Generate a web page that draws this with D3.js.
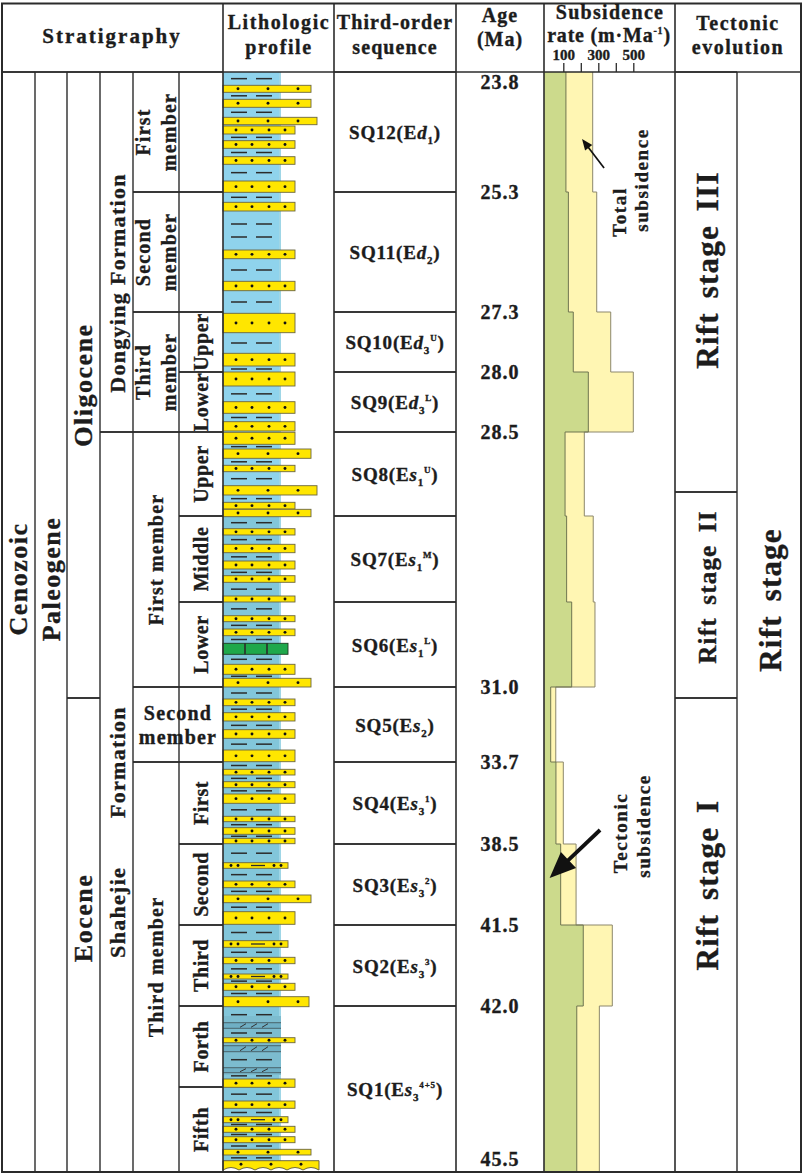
<!DOCTYPE html>
<html><head><meta charset="utf-8">
<script src="https://cdn.jsdelivr.net/npm/d3@7"></script>
<style>
body{margin:0;background:#fff}
svg{display:block}
text{font-family:"Liberation Serif","Times New Roman",serif;font-weight:bold;fill:#1c1c1c;stroke:#1c1c1c;stroke-width:0.35px}
</style>
</head><body>
<svg id="chart" width="803" height="1176"></svg>
<script>
// ================= DATA =================
const sequences   = ["SQ12","SQ11","SQ10","SQ9","SQ8","SQ7","SQ6","SQ5","SQ4","SQ3","SQ2","SQ1"];
const seqUnit     = ["d","d","d","d","s","s","s","s","s","s","s","s"];
const seqSub      = ["1","2","3","3","1","1","1","2","3","3","3","3"];
const seqSup      = ["","","U","L","U","M","L","","1","2","3","4+5"];
const seqTop      = [0,120,240,300,360,444,530,615,690,772,853,934];
const seqBase     = [120,240,300,360,444,530,615,690,772,853,934,1100];
const tectonicRate= [115,129,157,243,110,119,148,28,58,85,214,177];
const totalRate   = [268,291,371,500,220,271,281,57,100,173,380,306];
const ageLabels   = ["23.8","25.3","27.3","28.0","28.5","31.0","33.7","38.5","41.5","42.0","45.5"];
const ageDepth    = [0,120,240,300,360,615,690,772,853,934,1100];
const rateTicks   = [100,200,300,400,500];
const rateTickLabels = ["100","","300","","500"];

const eras       = [["Cenozoic",0,1100]];
const periods    = [["Paleogene",0,1100]];
const epochs     = [["Oligocene",0,626],["Eocene",626,1100]];
const formations = [["Dongying Formation",0,360],["Shahejie Formation",360,1100]];
const members    = [["First|member",0,120],["Second|member",120,240],["Third|member",240,360],
                    ["First member",360,615],["Second|member",615,690],["Third member",690,1100]];
const subMembers = [["",0,120],["",120,240],["Upper",240,300],["Lower",300,360],
                    ["Upper",360,444],["Middle",444,530],["Lower",530,615],["",615,690],
                    ["First",690,772],["Second",772,853],["Third",853,934],["Forth",934,1015],["Fifth",1015,1100]];
const stages     = [["Rift stage III",0,420],["Rift stage II",420,626],["Rift stage I",626,1100]];
const stageAll   = [["Rift stage",0,1100]];

// lithologic beds (relative thickness units): top, base, lithology
// S silty, F fine sand, M medium sand, C coarse sand, G green layer, D dolomitic mudstone, B basal conglomerate
const bedTop  = [13.3,27.3,45.3,54,68.7,84.7,109,130.3,178,209.3,241.3,281.3,300,329.7,349.7,360.3,377,393.3,413.7,430.3,437.3,456.7,472.3,489,503.7,524,543.7,557,571.3,592.3,606.3,627,640.7,657.7,678,697.3,709.7,722,744.3,755.7,766.3,790.7,809,823,839.7,868.7,885.3,902,911.3,924.7,950.7,965.7,973.7,995.7,1007,1029,1044.7,1054.3,1064.7,1077.3,1088.7];
const bedBase = [20.3,35.3,52.7,62,76.3,92.3,120.3,139,186.7,218.7,260.7,294,314,341.3,359,372.3,386.3,399.7,423,437,444.7,463,480.7,497,510.3,530,549.7,563.7,582.3,602.3,615,633.7,649,666.3,689.7,703,715.7,731.3,749.7,762.3,771.7,796.3,815.7,830.7,852.3,875.3,891.7,907,918.3,934.7,956.3,970.7,979.7,1000.7,1015.3,1036.3,1050.7,1060.3,1070.7,1083,1099];
const bedLith = ["M","M","C","F","F","F","F","F","F","F","F","F","F","F","F","F","M","F","C","F","M","F","F","F","F","F","F","F","G","F","M","F","F","F","F","F","F","F","F","F","F","S","F","M","F","S","F","S","F","M","D","F","D","D","F","F","S","F","F","M","B"];

// ================= LAYOUT =================
const svg = d3.select("#chart");
const TOP = 3.5, HB = 72, BOT = 1172, LEFT = 2, RIGHT = 801;
const y = d3.scaleLinear().domain([0,1100]).range([HB,BOT]);
const sx = d3.scaleLinear().domain([0,740]).range([545.8,675.3]);
const LINE = "#2b2b2b";

function rtext(g, t, x, yy, fs, ls, extra){
  const el = g.append("text")
    .attr("transform",`translate(${x},${yy}) rotate(-90)`)
    .attr("text-anchor","middle").attr("dominant-baseline","central")
    .style("font-size",fs+"px").style("letter-spacing",(ls||0)+"px").text(t);
  if(extra) extra(el);
  return el;
}
function htext(g, t, x, yy, fs, ls){
  return g.append("text").attr("x",x).attr("y",yy).attr("text-anchor","middle")
    .style("font-size",fs+"px").style("letter-spacing",(ls||0)+"px").text(t);
}
function hline(g,x0,x1,yy,w){ g.append("line").attr("x1",x0).attr("x2",x1).attr("y1",yy).attr("y2",yy).attr("stroke",LINE).attr("stroke-width",w||1.4); }
function vline(g,xx,y0,y1,w){ g.append("line").attr("x1",xx).attr("x2",xx).attr("y1",y0).attr("y2",y1).attr("stroke",LINE).attr("stroke-width",w||1.4); }

// ================= LITHOLOGIC PROFILE =================
const litho = svg.append("g");
const LX0 = 223, MUD = 281;
const grainX = d3.scaleOrdinal().domain(["D","S","G","F","M","C","B"]).range([281,288,288,295,311,317,319]);
const beds = bedTop.map((t,i)=>({t, b:bedBase[i], k:bedLith[i], m:i===49?309:null}));
const mudEnd = beds[beds.length-1].t;
litho.append("rect").attr("x",LX0).attr("y",y(0)).attr("width",MUD-LX0).attr("height",y(444)-y(0)).attr("fill","#8fd3ec");
litho.append("rect").attr("x",LX0).attr("y",y(444)).attr("width",MUD-LX0).attr("height",y(mudEnd)-y(444)).attr("fill","#82c6da");
litho.append("rect").attr("x",MUD-2).attr("y",y(0)).attr("width",2).attr("height",y(mudEnd)-y(0)).attr("fill","#9fd6e6");
litho.append("rect").attr("x",LX0).attr("y",y(944)).attr("width",MUD-LX0).attr("height",y(1003)-y(944)).attr("fill","#7cbccf");

// mudstone dashes in gaps
let prev = 0;
const gaps = [];
beds.forEach(bd=>{ if(bd.t-prev>3.5) gaps.push([prev,bd.t]); prev = Math.max(prev,bd.b); });
gaps.forEach(([a,b])=>{
  const h = y(b)-y(a), n = h>34?2:1;
  for(let i=1;i<=n;i++){
    const yy = y(a)+h*i/(n+1);
    [[231,247],[256,272]].forEach(([p,q])=>hline(litho,p,q,yy,1.5));
  }
});
const dot = (xx,yy)=>litho.append("circle").attr("cx",xx).attr("cy",yy).attr("r",1.45).attr("fill","#111");
beds.forEach(bd=>{
  const y0=y(bd.t), y1=y(bd.b), ym=(y0+y1)/2, xr = bd.m||grainX(bd.k);
  if(bd.k==="D"){
    litho.append("rect").attr("x",LX0).attr("y",y0).attr("width",xr-LX0).attr("height",y1-y0).attr("fill","#6fafc4");
    [243,254,265].forEach(xx=>litho.append("line").attr("x1",xx-3).attr("x2",xx+3).attr("y1",y1-1).attr("y2",y0+1).attr("stroke","#333").attr("stroke-width",1));
    hline(litho,LX0,MUD,y0,0.6); hline(litho,LX0,MUD,y1,0.6);
    return;
  }
  if(bd.k==="B"){
    let d = `M${LX0},${y0}L${xr},${y0}L${xr},${y1-1}`;
    const n = 6, w = (xr-LX0)/n;
    for(let i=0;i<n;i++){ const xa = xr - i*w, xb = xa - w; d += `Q${(xa+xb)/2},${y1-6} ${xb},${y1-1}`; }
    d += "Z";
    litho.append("path").attr("d",d).attr("fill","#ffe600").attr("stroke","#5f5a3a").attr("stroke-width",0.9);
    [241,271,301].forEach(xx=>dot(xx,y0+3.5));
    return;
  }
  litho.append("rect").attr("x",LX0).attr("y",y0).attr("width",xr-LX0).attr("height",y1-y0)
    .attr("fill",bd.k==="G"?"#1fa84b":"#ffe600").attr("stroke",bd.k==="G"?"#1d3b22":"#6b6640").attr("stroke-width",0.9);
  if(bd.k==="F") [236,252,269,285].forEach(xx=>dot(xx,ym));
  else if(bd.k==="M"||bd.k==="C") [238,268,298].forEach(xx=>dot(xx,ym));
  else if(bd.k==="S"){ [231,238,274,281].forEach(xx=>dot(xx,ym)); hline(litho,251,265,ym,1.3); }
  else if(bd.k==="G"){ [245,267].forEach(xx=>vline(litho,xx,y0,y1,1.6)); }
});

// ================= SUBSIDENCE =================
const sub = svg.append("g");
const pts = v => sequences.flatMap((s,i)=>[{d:seqTop[i],v:v[i]},{d:seqBase[i],v:v[i]}]);
const area = d3.area().y(p=>y(p.d)).x0(544).x1(p=>sx(p.v));
const step = d3.line().x(p=>sx(p.v)).y(p=>y(p.d));
sub.append("path").attr("d",area(pts(totalRate))).attr("fill","#fff6b3");
sub.append("path").attr("d",area(pts(tectonicRate))).attr("fill","#ccda8c");
sub.append("path").attr("d",step(pts(totalRate))).attr("fill","none").attr("stroke","#8c876c").attr("stroke-width",1);
sub.append("path").attr("d",step(pts(tectonicRate))).attr("fill","none").attr("stroke","#6f7550").attr("stroke-width",1);

function arrow(g,x1,y1,x2,y2,w,hl,hw){
  const a=Math.atan2(y2-y1,x2-x1), ux=Math.cos(a), uy=Math.sin(a);
  const bx=x2-ux*hl, by=y2-uy*hl;
  g.append("line").attr("x1",x1).attr("y1",y1).attr("x2",bx+ux*2).attr("y2",by+uy*2).attr("stroke","#111").attr("stroke-width",w);
  g.append("path").attr("d",`M${x2},${y2}L${bx-uy*hw/2},${by+ux*hw/2}L${bx+uy*hw/2},${by-ux*hw/2}Z`).attr("fill","#111");
}
arrow(sub, sx(333), y(96), sx(207), y(67), 1.7, 11, 9);
arrow(sub, sx(310), y(758), sx(22), y(806), 3.8, 26, 22);
rtext(sub,"Total",619,y(140),19,1.6);
rtext(sub,"subsidence",641,y(108),19,1.6);
rtext(sub,"Tectonic",620,y(761),19,1.6);
rtext(sub,"subsidence",643,y(754),19,1.6);

// axis ticks in header
const ax = svg.append("g").attr("transform",`translate(0,${HB})`)
  .call(d3.axisTop(sx).tickValues(rateTicks).tickSize(9).tickPadding(3).tickFormat((d,i)=>rateTickLabels[i]));
ax.select(".domain").remove();
ax.selectAll("line").attr("stroke",LINE).attr("stroke-width",1.3);
ax.selectAll("text").style("font-size","15px").attr("fill","#1c1c1c");

// ================= GRID =================
const grid = svg.append("g");
grid.append("rect").attr("x",LEFT).attr("y",TOP).attr("width",RIGHT-LEFT).attr("height",BOT-TOP).attr("fill","none").attr("stroke",LINE).attr("stroke-width",2);
hline(grid,LEFT,RIGHT,HB,1.6);
[223,334,456,544,675].forEach(xx=>vline(grid,xx,TOP,BOT,1.6));
[35,67,100,133,179,737].forEach(xx=>vline(grid,xx,HB,BOT,1.4));

// ================= STRATIGRAPHY =================
const strat = svg.append("g");
const shift = {"Cenozoic":-43,"Paleogene":-43,"Eocene":-17,"Dongying Formation":31,"Shahejie Formation":30};
const stratCols = [
  {data:eras, x0:2, x1:35, fs:26, ls:1.5},
  {data:periods, x0:35, x1:67, fs:26, ls:1.5},
  {data:epochs, x0:67, x1:100, fs:26, ls:1.5},
  {data:formations, x0:100, x1:133, fs:22, ls:1.3},
  {data:members, x0:133, x1:179, fs:20, ls:1.2},
  {data:subMembers, x0:179, x1:223, fs:20, ls:0.6}
];
stratCols.forEach(c=>{
  c.data.forEach(([name,t,b])=>{
    hline(strat,c.x0,c.x1,y(t)); hline(strat,c.x0,c.x1,y(b));
    if(!name) return;
    const cx=(c.x0+c.x1)/2, cy=(y(t)+y(b))/2+(shift[name]||0);
    const parts=name.split("|");
    if(parts.length===2 && y(b)-y(t)<100){
      htext(strat,parts[0],178,cy-5,c.fs,1.2);
      htext(strat,parts[1],178,cy+19,c.fs,1.2);
    } else if(parts.length===2){
      rtext(strat,parts[0],cx-13,cy,c.fs,c.ls);
      rtext(strat,parts[1],cx+13,cy,c.fs,c.ls);
    } else {
      rtext(strat,name,cx+(c.x0===100?1:0),cy,c.fs,c.ls, el=>{ if(name==="Shahejie Formation") el.style("word-spacing","42px"); });
    }
  });
});

// ================= SEQUENCES =================
const seqG = svg.append("g");
sequences.forEach((s,i)=>{
  hline(seqG,334,456,y(seqTop[i])); hline(seqG,334,456,y(seqBase[i]));
  const yc=(y(seqTop[i])+y(seqBase[i]))/2+7;
  const t=seqG.append("text").attr("x",395).attr("y",yc).attr("text-anchor","middle").style("font-size","19px").style("letter-spacing","0.8px");
  t.append("tspan").text(s+"(E");
  t.append("tspan").style("font-style","italic").text(seqUnit[i]);
  t.append("tspan").attr("dy",5).style("font-size","11px").text(seqSub[i]);
  if(seqSup[i]){
    t.append("tspan").attr("dy",-13).style("font-size","9px").text(seqSup[i]);
    t.append("tspan").attr("dy",8).text(")");
  } else t.append("tspan").attr("dy",-5).text(")");
});

// ================= AGES =================
const ageG = svg.append("g");
ageLabels.forEach((a,i)=>{
  const yy=Math.min(Math.max(y(ageDepth[i]),HB+10),BOT-13);
  ageG.append("text").attr("x",500).attr("y",yy+7).attr("text-anchor","middle").style("font-size","20px").style("letter-spacing","1px").text(a);
});

// ================= TECTONIC =================
const tect = svg.append("g");
const tshift = {"Rift stage III":-12,"Rift stage II":-8,"Rift stage I":-50,"Rift stage":-22};
const tfs = {"Rift stage III":31,"Rift stage II":25,"Rift stage I":31,"Rift stage":31};
stages.forEach(([n,t,b])=>{
  hline(tect,675,737,y(t)); hline(tect,675,737,y(b));
  rtext(tect,n,707,(y(t)+y(b))/2+tshift[n],tfs[n],1.2, el=>el.style("word-spacing","5px"));
});
stageAll.forEach(([n,t,b])=>{
  rtext(tect,n,770,(y(t)+y(b))/2+tshift[n],tfs[n],1.2, el=>el.style("word-spacing","5px"));
});

// ================= HEADER =================
const hd = svg.append("g");
htext(hd,"Stratigraphy",112,43,21,2);
htext(hd,"Lithologic",279,29,20,1.6);
htext(hd,"profile",279,54,20,1.6);
htext(hd,"Third-order",395,29,20,1.1);
htext(hd,"sequence",395,54,20,1.1);
htext(hd,"Age",500,22,20,1);
htext(hd,"(Ma)",500,46,20,1);
htext(hd,"Subsidence",610,19,20,1.3);
const rt = htext(hd,"",609,42,20,0.8);
rt.append("tspan").text("rate (m·Ma");
rt.append("tspan").attr("dy",-8).style("font-size","10px").text("-1");
rt.append("tspan").attr("dy",8).text(")");
htext(hd,"Tectonic",738,30,20,1.5);
htext(hd,"evolution",738,54,20,1.5);
</script>
</body></html>
